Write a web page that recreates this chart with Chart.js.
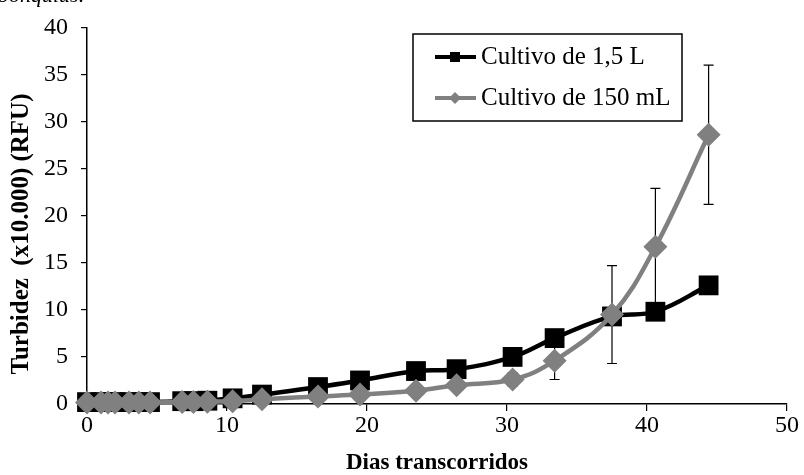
<!DOCTYPE html>
<html>
<head>
<meta charset="utf-8">
<script src="https://cdn.jsdelivr.net/npm/chart.js@4/dist/chart.umd.min.js"></script>
<style>
  html, body { margin: 0; padding: 0; background: #fff; }
  #wrap { width: 804px; height: 475px; position: relative; }
</style>
</head>
<body>
<div id="wrap"><canvas id="c" width="804" height="475"></canvas></div>
<script>
// Sampling days
const days = [0, 1, 1.5, 2, 3, 3.7, 4.5, 6.8, 7.6, 8.6, 10.4, 12.5, 16.5, 19.5, 23.5, 26.4, 30.4, 33.4, 37.5, 40.6, 44.4];
// Turbidity (x10.000 RFU), 1,5 L culture
const cultivo15L = [0.2, 0.2, 0.2, 0.2, 0.2, 0.2, 0.2, 0.3, 0.3, 0.35, 0.6, 1.0, 1.8, 2.5, 3.5, 3.7, 5.0, 7.0, 9.3, 9.8, 12.6];
// Turbidity (x10.000 RFU), 150 mL culture
const cultivo150mL = [0.15, 0.15, 0.15, 0.15, 0.15, 0.15, 0.15, 0.2, 0.2, 0.25, 0.3, 0.5, 0.8, 1.0, 1.4, 2.0, 2.6, 4.6, 9.5, 16.7, 28.6];
// Standard deviation, 150 mL culture
const error150mL = [0, 0, 0, 0, 0, 0, 0, 0, 0, 0, 0, 0, 0, 0, 0, 0, 0.7, 2.0, 5.2, 6.2, 7.4];

const xTicks = [0, 10, 20, 30, 40, 50];
const yTicks = [0, 5, 10, 15, 20, 25, 30, 35, 40];
const seriesNames = ['Cultivo de 1,5 L', 'Cultivo de 150 mL'];
const xTitle = 'Dias transcorridos';
const yTitle = 'Turbidez  (x10.000) (RFU)';
const captionTail = 'bonquius.';

const BLACK = '#000000';
const GREY = '#808080';
const SERIF = '"Liberation Serif", "Times New Roman", serif';

const toPoints = (ys) => days.map((d, i) => ({ x: d, y: ys[i] }));

// Vertical error bars with caps, drawn under the markers
const errorBars = {
  id: 'errorBars',
  beforeDatasetsDraw(chart) {
    const { ctx, scales: { x, y } } = chart;
    ctx.save();
    ctx.strokeStyle = BLACK;
    ctx.lineWidth = 1.2;
    days.forEach((d, i) => {
      const e = error150mL[i];
      if (!e) return;
      const px = x.getPixelForValue(d);
      const top = y.getPixelForValue(cultivo150mL[i] + e);
      const bot = y.getPixelForValue(cultivo150mL[i] - e);
      ctx.beginPath();
      ctx.moveTo(px, top); ctx.lineTo(px, bot);
      ctx.moveTo(px - 5, top); ctx.lineTo(px + 5, top);
      ctx.moveTo(px - 5, bot); ctx.lineTo(px + 5, bot);
      ctx.stroke();
    });
    ctx.restore();
  }
};

// Axis titles, boxed legend and the caption line above the plot
const decorations = {
  id: 'decorations',
  afterDraw(chart) {
    const { ctx, chartArea } = chart;
    ctx.save();
    ctx.fillStyle = BLACK;

    // caption tail, mostly above the canvas edge
    ctx.font = 'italic 22px ' + SERIF;
    ctx.textAlign = 'left';
    ctx.textBaseline = 'alphabetic';
    ctx.fillText(captionTail, -2, 2);

    // x title
    ctx.font = 'bold 23px ' + SERIF;
    ctx.textAlign = 'center';
    ctx.textBaseline = 'middle';
    ctx.fillText(xTitle, (chartArea.left + chartArea.right) / 2, 463);

    // y title
    ctx.font = 'bold 25px ' + SERIF;
    ctx.save();
    ctx.translate(22, 234);
    ctx.rotate(-Math.PI / 2);
    ctx.fillText(yTitle, 0, 0);
    ctx.restore();

    // legend box
    const bx = 413, by = 34, bw = 269, bh = 87;
    ctx.fillStyle = '#fff';
    ctx.fillRect(bx, by, bw, bh);
    ctx.strokeStyle = BLACK;
    ctx.lineWidth = 1.5;
    ctx.strokeRect(bx, by, bw, bh);

    const rows = [
      { y: 57, color: BLACK, marker: 'rect' },
      { y: 98, color: GREY, marker: 'diamond' }
    ];
    rows.forEach((r, i) => {
      ctx.strokeStyle = r.color;
      ctx.lineWidth = 4;
      ctx.beginPath();
      ctx.moveTo(435, r.y); ctx.lineTo(476, r.y);
      ctx.stroke();
      ctx.fillStyle = r.color;
      const cx = 455;
      if (r.marker === 'rect') {
        ctx.fillRect(cx - 5, r.y - 5, 10, 10);
      } else {
        ctx.beginPath();
        ctx.moveTo(cx, r.y - 6); ctx.lineTo(cx + 6, r.y);
        ctx.lineTo(cx, r.y + 6); ctx.lineTo(cx - 6, r.y);
        ctx.closePath(); ctx.fill();
      }
      ctx.fillStyle = BLACK;
      ctx.font = '25px ' + SERIF;
      ctx.textAlign = 'left';
      ctx.textBaseline = 'middle';
      ctx.fillText(seriesNames[i], 481, r.y);
    });
    ctx.restore();
  }
};

new Chart(document.getElementById('c'), {
  type: 'scatter',
  data: {
    datasets: [
      {
        label: seriesNames[0],
        data: toPoints(cultivo15L),
        showLine: true,
        borderColor: BLACK,
        backgroundColor: BLACK,
        borderWidth: 4.5,
        tension: 0.4,
        pointStyle: 'rect',
        pointRadius: 14,
        pointBorderWidth: 0,
        clip: false,
        order: 2
      },
      {
        label: seriesNames[1],
        data: toPoints(cultivo150mL),
        showLine: true,
        borderColor: GREY,
        backgroundColor: GREY,
        borderWidth: 4.5,
        tension: 0.4,
        pointStyle: 'rectRot',
        pointRadius: 12,
        pointBorderWidth: 0,
        clip: false,
        order: 1
      }
    ]
  },
  options: {
    responsive: false,
    animation: false,
    events: [],
    layout: { padding: { top: 22, right: 17, bottom: 0, left: 0 } },
    plugins: { legend: { display: false }, tooltip: { enabled: false }, title: { display: false } },
    scales: {
      x: {
        type: 'linear',
        min: 0, max: 50,
        afterFit(s) { s.height = 71; },
        afterBuildTicks(s) { s.ticks = xTicks.map(v => ({ value: v })); },
        grid: { display: true, drawOnChartArea: false, drawTicks: true, tickLength: 7, color: BLACK, lineWidth: 1.2 },
        border: { display: true, color: BLACK, width: 1.5 },
        ticks: { color: BLACK, font: { family: SERIF, size: 24 }, padding: 0, maxRotation: 0 }
      },
      y: {
        type: 'linear',
        min: 0, max: 40,
        afterFit(s) { s.width = 87; },
        afterBuildTicks(s) { s.ticks = yTicks.map(v => ({ value: v })); },
        grid: { display: true, drawOnChartArea: false, drawTicks: true, tickLength: 6, color: BLACK, lineWidth: 1.2 },
        border: { display: true, color: BLACK, width: 1.5 },
        ticks: { color: BLACK, font: { family: SERIF, size: 24 }, padding: 13 }
      }
    }
  },
  plugins: [errorBars, decorations]
});
</script>
</body>
</html>
